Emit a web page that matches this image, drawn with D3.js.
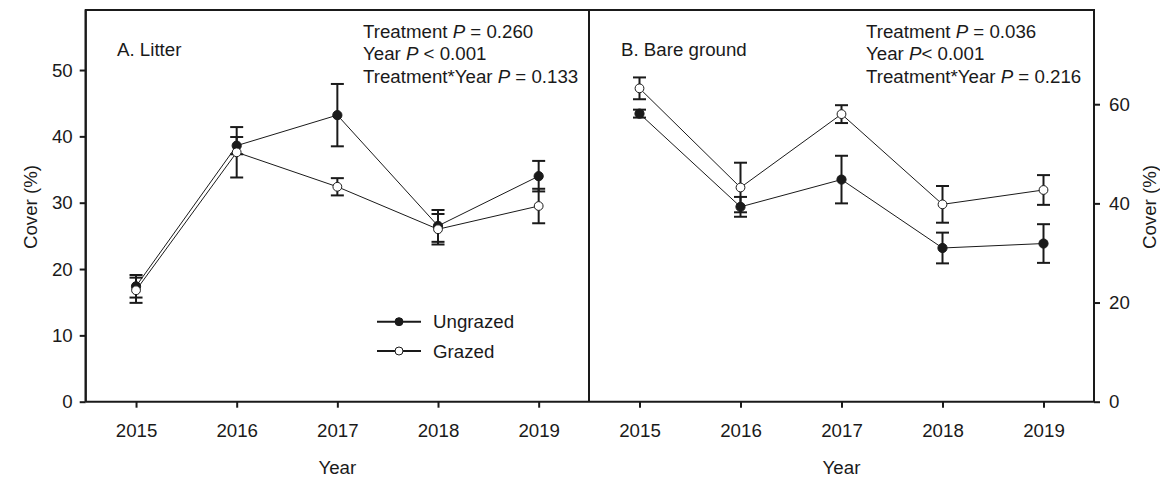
<!DOCTYPE html>
<html><head><meta charset="utf-8">
<script src="https://cdn.jsdelivr.net/npm/d3@7"></script>
<style>
html,body{margin:0;padding:0;background:#fff;}
text{font-family:"Liberation Sans",Arial,sans-serif;fill:#1a1a1a;}
</style></head>
<body><svg id="c" width="1160" height="481"></svg>
<script>
const years = [2015, 2016, 2017, 2018, 2019];
const litterUngrazed   = [17.4, 38.6, 43.2, 26.5, 34.0];
const litterUngrazedSE = [1.7, 1.3, 4.7, 2.4, 2.3];
const litterGrazed     = [16.8, 37.6, 32.4, 26.0, 29.5];
const litterGrazedSE   = [1.9, 3.8, 1.3, 2.3, 2.6];
const bareUngrazed     = [58.1, 39.3, 44.8, 31.0, 31.9];
const bareUngrazedSE   = [0.8, 2.0, 4.8, 3.1, 3.9];
const bareGrazed       = [63.2, 43.2, 58.0, 39.8, 42.7];
const bareGrazedSE     = [2.2, 5.0, 1.8, 3.7, 3.0];
const leftTicks = [0, 10, 20, 30, 40, 50];
const rightTicks = [0, 20, 40, 60];
const seriesNames = ["Ungrazed", "Grazed"];
const panelTitles = ["A. Litter", "B. Bare ground"];
const statsLeft = [["Treatment ", "P", " = 0.260"], ["Year ", "P", " < 0.001"], ["Treatment*Year ", "P", " = 0.133"]];
const statsRight = [["Treatment ", "P", " = 0.036"], ["Year ", "P", "< 0.001"], ["Treatment*Year ", "P", " = 0.216"]];

const INK = "#1a1a1a";
const FS = 18.7;
const svg = d3.select("#c");
const topY = 10, bottomY = 401.7;
const xL = d3.scaleLinear().domain([2014.5, 2019.5]).range([85.7, 589]);
const xR = d3.scaleLinear().domain([2014.5, 2019.5]).range([589, 1094]);
const yL = d3.scaleLinear().domain([0, 59.05]).range([bottomY, topY]);
const yR = d3.scaleLinear().domain([0, 79]).range([bottomY, topY]);

function panel(x, y, ung, ungSE, gr, grSE) {
  const g = svg.append("g");
  const line = d3.line().x((d,i)=>x(years[i])).y(d=>y(d));
  [gr, ung].forEach(s => g.append("path").attr("d", line(s)).attr("fill","none").attr("stroke",INK).attr("stroke-width",1));
  const eb = (vals, se) => {
    vals.forEach((v,i)=>{
      const cx = x(years[i]);
      g.append("line").attr("x1",cx).attr("x2",cx).attr("y1",y(v-se[i])).attr("y2",y(v+se[i])).attr("stroke",INK).attr("stroke-width",2);
      [v-se[i], v+se[i]].forEach(e=> g.append("line").attr("x1",cx-6.5).attr("x2",cx+6.5).attr("y1",y(e)).attr("y2",y(e)).attr("stroke",INK).attr("stroke-width",2));
    });
  };
  eb(ung, ungSE); eb(gr, grSE);
  g.selectAll(null).data(ung).join("circle").attr("cx",(d,i)=>x(years[i])).attr("cy",d=>y(d)).attr("r",4.6).attr("fill",INK).attr("stroke",INK).attr("stroke-width",1);
  g.selectAll(null).data(gr).join("circle").attr("cx",(d,i)=>x(years[i])).attr("cy",d=>y(d)).attr("r",4.4).attr("fill","#fff").attr("stroke",INK).attr("stroke-width",1);
}

// frame
svg.append("path").attr("d", `M${xL.range()[0]},${bottomY} V${topY} H${xR.range()[1]} V${bottomY}`).attr("fill","none").attr("stroke",INK).attr("stroke-width",2);
svg.append("line").attr("x1",589).attr("x2",589).attr("y1",topY).attr("y2",bottomY).attr("stroke",INK).attr("stroke-width",2);

// axes
const axL = svg.append("g").attr("transform",`translate(${xL.range()[0]},0)`).call(d3.axisLeft(yL).tickValues(leftTicks).tickSize(6).tickPadding(7));
const axR = svg.append("g").attr("transform",`translate(${xR.range()[1]},0)`).call(d3.axisRight(yR).tickValues(rightTicks).tickSize(6).tickPadding(9));
const axBL = svg.append("g").attr("transform",`translate(0,${bottomY})`).call(d3.axisBottom(xL).tickValues(years).tickFormat(d3.format("d")).tickSize(6).tickPadding(16));
const axBR = svg.append("g").attr("transform",`translate(0,${bottomY})`).call(d3.axisBottom(xR).tickValues(years).tickFormat(d3.format("d")).tickSize(6).tickPadding(16));
[axL, axR, axBL, axBR].forEach(a=>{
  a.select(".domain").attr("stroke",INK).attr("stroke-width",2);
  a.selectAll(".tick line").attr("stroke",INK).attr("stroke-width",2);
  a.selectAll(".tick text").attr("font-size",FS).attr("fill",INK).style("font-family","'Liberation Sans',Arial,sans-serif");
});
axBL.select(".domain").attr("d",`M85.7,0H589`);
axBR.select(".domain").attr("d",`M589,0H1094`);
axL.select(".domain").attr("d",`M0,${bottomY}V${topY}`);
axR.select(".domain").attr("d",`M0,${bottomY}V${topY}`);

panel(xL, yL, litterUngrazed, litterUngrazedSE, litterGrazed, litterGrazedSE);
panel(xR, yR, bareUngrazed, bareUngrazedSE, bareGrazed, bareGrazedSE);

// titles
svg.append("text").attr("x",117).attr("y",56).attr("font-size",FS).text(panelTitles[0]);
svg.append("text").attr("x",621).attr("y",56).attr("font-size",FS).text(panelTitles[1]);
function stats(x, rows) {
  rows.forEach((r,i)=>{
    const t = svg.append("text").attr("x",x).attr("y",37.7+i*22.5).attr("font-size",FS);
    t.append("tspan").text(r[0]);
    t.append("tspan").attr("font-style","italic").text(r[1]);
    t.append("tspan").text(r[2]);
  });
}
stats(363, statsLeft);
stats(866, statsRight);

// axis titles
svg.append("text").attr("transform","translate(37,207) rotate(-90)").attr("text-anchor","middle").attr("font-size",FS).text("Cover (%)");
svg.append("text").attr("transform","translate(1156,207) rotate(-90)").attr("text-anchor","middle").attr("font-size",FS).text("Cover (%)");
svg.append("text").attr("x",(85.7+589)/2).attr("y",474).attr("text-anchor","middle").attr("font-size",FS).text("Year");
svg.append("text").attr("x",(589+1094)/2).attr("y",474).attr("text-anchor","middle").attr("font-size",FS).text("Year");

// legend
const lg = svg.append("g");
seriesNames.forEach((n,i)=>{
  const yy = 321.7 + i*29.3;
  lg.append("line").attr("x1",377).attr("x2",421).attr("y1",yy).attr("y2",yy).attr("stroke",INK).attr("stroke-width",2);
  lg.append("circle").attr("cx",399).attr("cy",yy).attr("r",4).attr("fill",i===0?INK:"#fff").attr("stroke",INK).attr("stroke-width",1);
  lg.append("text").attr("x",433).attr("y",yy+6.5).attr("font-size",FS).text(n);
});
</script></body></html>
